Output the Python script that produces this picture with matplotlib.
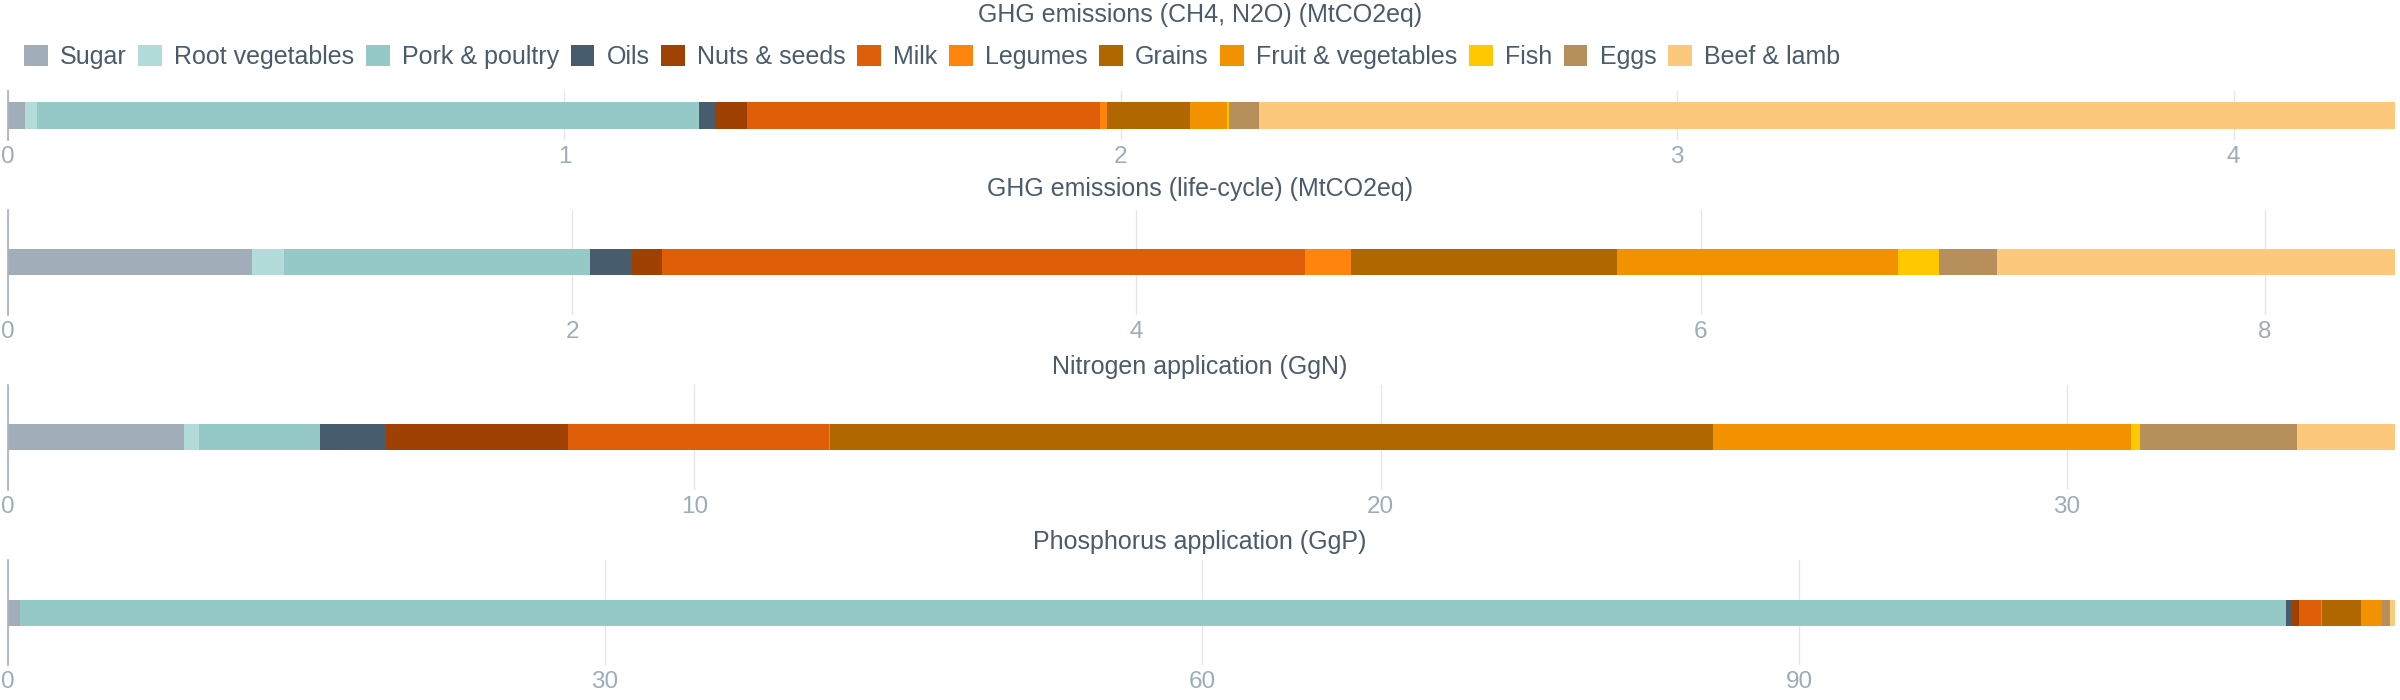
import matplotlib
matplotlib.use("Agg")
import matplotlib.pyplot as plt
from matplotlib.patches import Patch

plt.rcParams['font.family'] = ['Liberation Sans', 'DejaVu Sans']

categories = ["Sugar", "Root vegetables", "Pork & poultry", "Oils", "Nuts & seeds", "Milk",
              "Legumes", "Grains", "Fruit & vegetables", "Fish", "Eggs", "Beef & lamb"]
colors = ["#a1adb9", "#b2dbd9", "#95c9c8", "#475c6d", "#a04104", "#df5e09",
          "#fe840e", "#b06700", "#f39200", "#ffc800", "#b68f5a", "#fcc97c"]

titles = ["GHG emissions (CH4, N2O) (MtCO2eq)", "GHG emissions (life-cycle) (MtCO2eq)",
          "Nitrogen application (GgN)", "Phosphorus application (GgP)"]

ghg_ch4_n2o = [0.030, 0.022, 1.189, 0.030, 0.058, 0.634, 0.012, 0.149, 0.067, 0.003, 0.055, 2.041]
ghg_lifecycle = [0.865, 0.114, 1.085, 0.149, 0.106, 2.277, 0.166, 0.943, 0.994, 0.144, 0.208, 1.410]
nitrogen = [2.56, 0.23, 1.76, 0.94, 2.67, 3.80, 0.02, 12.87, 6.09, 0.12, 2.29, 1.43]
phosphorus = [0.58, 0.02, 113.86, 0.31, 0.34, 1.12, 0.05, 1.96, 1.04, 0.02, 0.38, 0.27]

series = [ghg_ch4_n2o, ghg_lifecycle, nitrogen, phosphorus]
ticks = [[0, 1, 2, 3, 4], [0, 2, 4, 6, 8], [0, 10, 20, 30], [0, 30, 60, 90]]

W, H = 2400, 700
fig = plt.figure(figsize=(24, 7), dpi=100)

# axes boxes in pixels: (top, bottom)
boxes = [(91, 140), (210, 315), (385, 490), (560, 665)]
title_y = [15, 189, 367, 542]
left_px, right_px = 8, 2395

title_color = "#4a5b6c"
tick_color = "#9cadb9"

for i, (vals, (top, bot)) in enumerate(zip(series, boxes)):
    ax = fig.add_axes([left_px / W, 1 - bot / H, (right_px - left_px) / W, (bot - top) / H])
    bar_h = 26 / (bot - top)
    left = 0.0
    for v, c in zip(vals, colors):
        ax.barh(0, v, left=left, height=bar_h, color=c, linewidth=0)
        left += v
    ax.set_xlim(0, left)
    ax.set_ylim(-0.5, 0.5)
    ax.set_yticks([])
    ax.set_xticks(ticks[i])
    ax.set_xticklabels([str(t) for t in ticks[i]])
    ax.tick_params(axis='x', length=0, pad=4, labelsize=17.5, labelcolor=tick_color)
    ax.grid(axis='x', color="#e6e6e6", linewidth=1)
    ax.set_axisbelow(True)
    for s in ["top", "right", "bottom"]:
        ax.spines[s].set_visible(False)
    ax.spines["left"].set_color("#a7b2bc")
    ax.spines["left"].set_linewidth(1.2)
    fig.text(0.5, 1 - title_y[i] / H, titles[i], ha='center', va='center',
             fontsize=18, color=title_color)

handles = [Patch(facecolor=c, edgecolor='none', label=l) for c, l in zip(colors, categories)]
leg = fig.legend(handles=handles, loc='center left', bbox_to_anchor=(24 / W, 1 - 57 / H),
                 ncol=12, frameon=False, fontsize=18, handlelength=0.95, handleheight=0.95,
                 handletextpad=0.5, columnspacing=0.45, borderaxespad=0, borderpad=0)
for t in leg.get_texts():
    t.set_color(title_color)

fig.savefig("out.png", dpi=100, facecolor="white")
